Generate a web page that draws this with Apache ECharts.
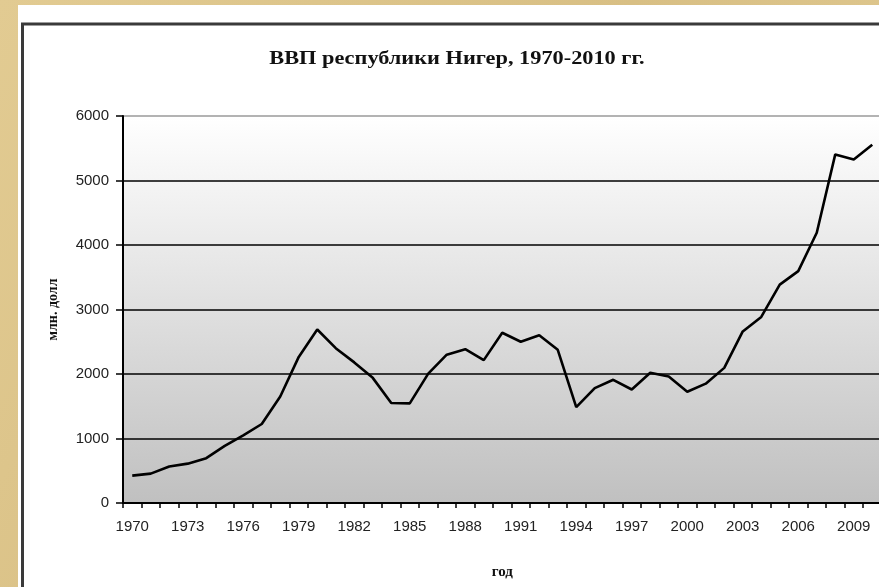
<!DOCTYPE html>
<html>
<head>
<meta charset="utf-8">
<script src="https://cdn.jsdelivr.net/npm/echarts@6/dist/echarts.min.js"></script>
<style>
html,body{margin:0;padding:0;background:#dcc58c;}
#chart{width:879px;height:587px;}
</style>
</head>
<body>
<div id="chart"></div>
<script>
const years = ['1970','1971','1972','1973','1974','1975','1976','1977','1978','1979',
  '1980','1981','1982','1983','1984','1985','1986','1987','1988','1989',
  '1990','1991','1992','1993','1994','1995','1996','1997','1998','1999',
  '2000','2001','2002','2003','2004','2005','2006','2007','2008','2009','2010'];
const gdp = [425, 455, 565, 610, 695, 885, 1050, 1225, 1650, 2265,
  2690, 2400, 2180, 1940, 1550, 1545, 2005, 2300, 2385, 2215,
  2640, 2500, 2600, 2375, 1485, 1780, 1910, 1760, 2020, 1960,
  1725, 1850, 2095, 2660, 2885, 3385, 3595, 4190, 5405, 5325, 5555];
const yTicks = [0, 1000, 2000, 3000, 4000, 5000, 6000];
const titleText = 'ВВП республики Нигер, 1970-2010 гг.';
const yName = 'млн. долл';
const xName = 'год';

const chart = echarts.init(document.getElementById('chart'), null, {renderer: 'canvas'});
chart.setOption({
  animation: false,
  backgroundColor: new echarts.graphic.LinearGradient(0, 0, 1, 1, [
    {offset: 0, color: '#e2cb92'},
    {offset: 0.5, color: '#d8bf84'},
    {offset: 1, color: '#e4ce97'}
  ]),
  graphic: [
    {type: 'rect', z: -100, silent: true, shape: {x: 18, y: 5, width: 900, height: 620}, style: {fill: '#ffffff'}},
    {type: 'rect', z: -99, silent: true, shape: {x: 22.5, y: 24, width: 900, height: 620}, style: {fill: null, stroke: '#3a3a3a', lineWidth: 3}},
    {type: 'text', z: 10, x: 457, y: 59, scaleX: 1.24, originX: 0, originY: 0, silent: true,
      style: {text: titleText, x: 0, y: 0, fill: '#111', font: 'bold 18px "Liberation Serif", "DejaVu Serif", serif', align: 'center', verticalAlign: 'middle'}}
  ],
  grid: {
    left: 123, top: 116, width: 758.5, height: 387,
    show: true, borderWidth: 0,
    backgroundColor: new echarts.graphic.LinearGradient(0, 0, 0, 1, [
      {offset: 0, color: '#ffffff'},
      {offset: 1, color: '#c0c0c0'}
    ]),
    outerBoundsMode: 'none'
  },
  xAxis: {
    type: 'category',
    data: years,
    boundaryGap: true,
    name: xName,
    nameLocation: 'middle',
    nameGap: 62,
    nameTextStyle: {fontFamily: '"Liberation Serif", serif', fontWeight: 'bold', fontSize: 15, color: '#111'},
    axisLine: {show: true, lineStyle: {color: '#000', width: 2}},
    axisTick: {show: true, interval: 0, length: 5, lineStyle: {color: '#000', width: 1.5}},
    axisLabel: {interval: 2, margin: 16, fontFamily: '"Liberation Sans", Arial, sans-serif', fontSize: 15, color: '#222'},
    splitLine: {show: false}
  },
  yAxis: {
    type: 'value',
    min: yTicks[0], max: yTicks[yTicks.length - 1], interval: 1000,
    name: yName,
    nameLocation: 'middle',
    nameRotate: 90,
    nameGap: 63,
    nameTextStyle: {fontFamily: '"Liberation Serif", serif', fontWeight: 'bold', fontSize: 14, color: '#111'},
    axisLine: {show: true, lineStyle: {color: '#000', width: 2}},
    axisTick: {show: true, length: 7, lineStyle: {color: '#000', width: 1.5}},
    axisLabel: {margin: 14, fontFamily: '"Liberation Sans", Arial, sans-serif', fontSize: 15, color: '#222',
      formatter: function (v) { return String(v); }},
    splitLine: {show: true, lineStyle: {color: ['#000', '#000', '#000', '#000', '#000', '#000', '#9a9a9a'], width: 1.5}}
  },
  series: [{
    type: 'line',
    data: gdp,
    showSymbol: false,
    symbol: 'none',
    lineStyle: {color: '#000', width: 2.6},
    itemStyle: {color: '#000'}
  }]
});
</script>
</body>
</html>
